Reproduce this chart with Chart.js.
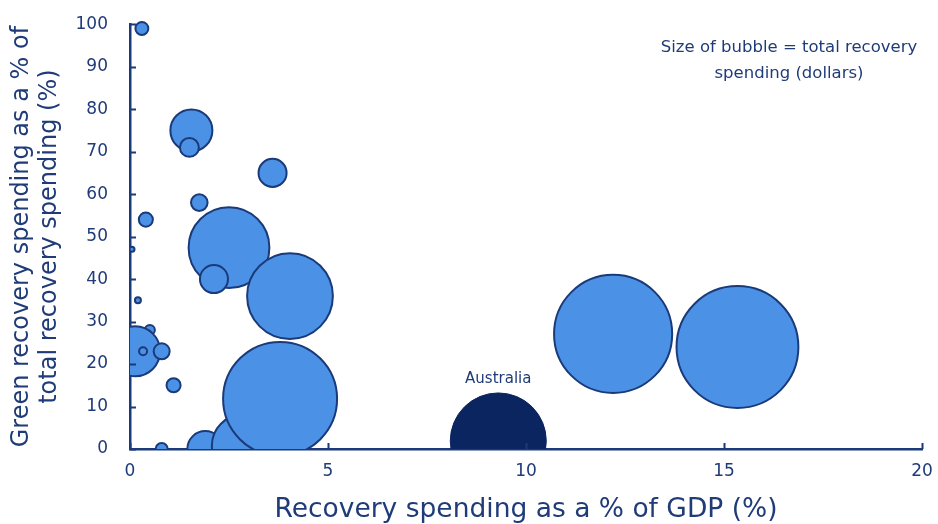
<!DOCTYPE html>
<html>
<head>
<meta charset="utf-8">
<script src="https://cdn.jsdelivr.net/npm/chart.js@4/dist/chart.umd.min.js"></script>
<style>
  html, body { margin: 0; padding: 0; background: #fff; }
  #wrap { width: 938px; height: 524px; }
</style>
</head>
<body>
<div id="wrap"><canvas id="chart" width="938" height="524"></canvas></div>
<script>
// Recovery spending (% GDP), green share (%), total spending (relative units)
const gdpShare   = [0.3, 1.55, 1.5, 3.6, 1.75, 0.4, 2.5, 2.12, 4.04, 0.05, 0.2, 0.5, 0.13, 0.33, 0.8, 1.1, 0.8, 1.9, 2.85, 3.79, 12.2, 15.34];
const greenShare = [99, 75, 71, 65, 58, 54, 47.4, 40, 36, 47, 35, 28, 23, 23, 23, 15, 0, 0, 0.8, 11.8, 27.1, 24];
const spending   = [2.6, 27.6, 5.6, 12.3, 4.3, 3.1, 102, 12.3, 115, 0.4, 0.56, 1.6, 39, 1, 4, 3.1, 2.25, 20, 60, 203, 218, 232];

const ausGdp = 9.3;
const ausGreen = 1.9;
const ausSpending = 144;

const xTicks = [0, 5, 10, 15, 20];
const yTicks = [0, 10, 20, 30, 40, 50, 60, 70, 80, 90, 100];

const NAVY = '#1b3a7a';
const TEXT = '#1f3b78';
const FONT = "'DejaVu Sans', sans-serif";

const radius = s => 4 * Math.sqrt(s);

const others = gdpShare.map((x, i) => ({ x, y: greenShare[i], r: radius(spending[i]) }));
// drawing order: bubble 12 sits behind the big one at the axis
const ordered = [others[11], ...others.filter((_, i) => i !== 11)];

const innerTicks = {
  id: 'innerTicks',
  afterDatasetsDraw(chart) {
    const { ctx, scales: { x, y }, chartArea } = chart;
    ctx.save();
    ctx.strokeStyle = NAVY;
    ctx.lineWidth = 2;
    ctx.beginPath();
    yTicks.forEach(v => {
      const py = Math.round(y.getPixelForValue(v)) + 0.5;
      ctx.moveTo(chartArea.left, py);
      ctx.lineTo(chartArea.left + 6, py);
    });
    xTicks.forEach(v => {
      const px = Math.round(x.getPixelForValue(v)) + 0.5;
      ctx.moveTo(px, chartArea.bottom);
      ctx.lineTo(px, chartArea.bottom - 6);
    });
    ctx.stroke();

    // Australia label
    const pt = chart.getDatasetMeta(1).data[0];
    ctx.fillStyle = TEXT;
    ctx.font = "15px " + FONT;
    ctx.textAlign = 'center';
    ctx.textBaseline = 'middle';
    ctx.fillText('Australia', pt.x, pt.y - pt.options.radius - 14);

    // bubble size note
    ctx.font = "16.5px " + FONT;
    ctx.fillText('Size of bubble = total recovery', 789, 48);
    ctx.fillText('spending (dollars)', 789, 74);
    ctx.restore();
  }
};

new Chart(document.getElementById('chart'), {
  type: 'bubble',
  data: {
    datasets: [
      { label: 'Other countries', data: ordered,
        backgroundColor: '#4b91e5', borderColor: NAVY, borderWidth: 2,
        clip: { left: 0, bottom: 0, top: 10, right: 10 } },
      { label: 'Australia', data: [{ x: ausGdp, y: ausGreen, r: radius(ausSpending) }],
        backgroundColor: '#0b2560', borderColor: '#0b2560', borderWidth: 1,
        clip: { left: 0, bottom: 0, top: 10, right: 10 } },
    ],
  },
  options: {
    responsive: false,
    animation: false,
    events: [],
    layout: { autoPadding: false, padding: { top: 23, right: 16, left: 8, bottom: 0 } },
    plugins: { legend: { display: false }, tooltip: { enabled: false } },
    scales: {
      x: {
        type: 'linear', min: 0, max: 20,
        afterBuildTicks: s => { s.ticks = xTicks.map(v => ({ value: v })); },
        afterFit: s => { s.height = 75; },
        grid: { display: false },
        border: { display: true, color: NAVY, width: 2.5 },
        ticks: { color: TEXT, font: { family: FONT, size: 17 }, padding: 4 },
        title: { display: true, text: 'Recovery spending as a % of GDP (%)',
                 color: TEXT, font: { family: FONT, size: 26.5 }, padding: { top: 3, bottom: -2 } },
      },
      y: {
        type: 'linear', min: 0, max: 100,
        afterBuildTicks: s => { s.ticks = yTicks.map(v => ({ value: v })); },
        afterFit: s => { s.width = 122; },
        grid: { display: false },
        border: { display: true, color: NAVY, width: 2.5 },
        ticks: { color: TEXT, font: { family: FONT, size: 17 }, padding: 14 },
        title: { display: true, text: ['Green recovery spending as a % of', 'total recovery spending (%)'],
                 color: TEXT, font: { family: FONT, size: 24, lineHeight: 1.17 }, padding: 0 },
      },
    },
  },
  plugins: [innerTicks],
});
</script>
</body>
</html>
